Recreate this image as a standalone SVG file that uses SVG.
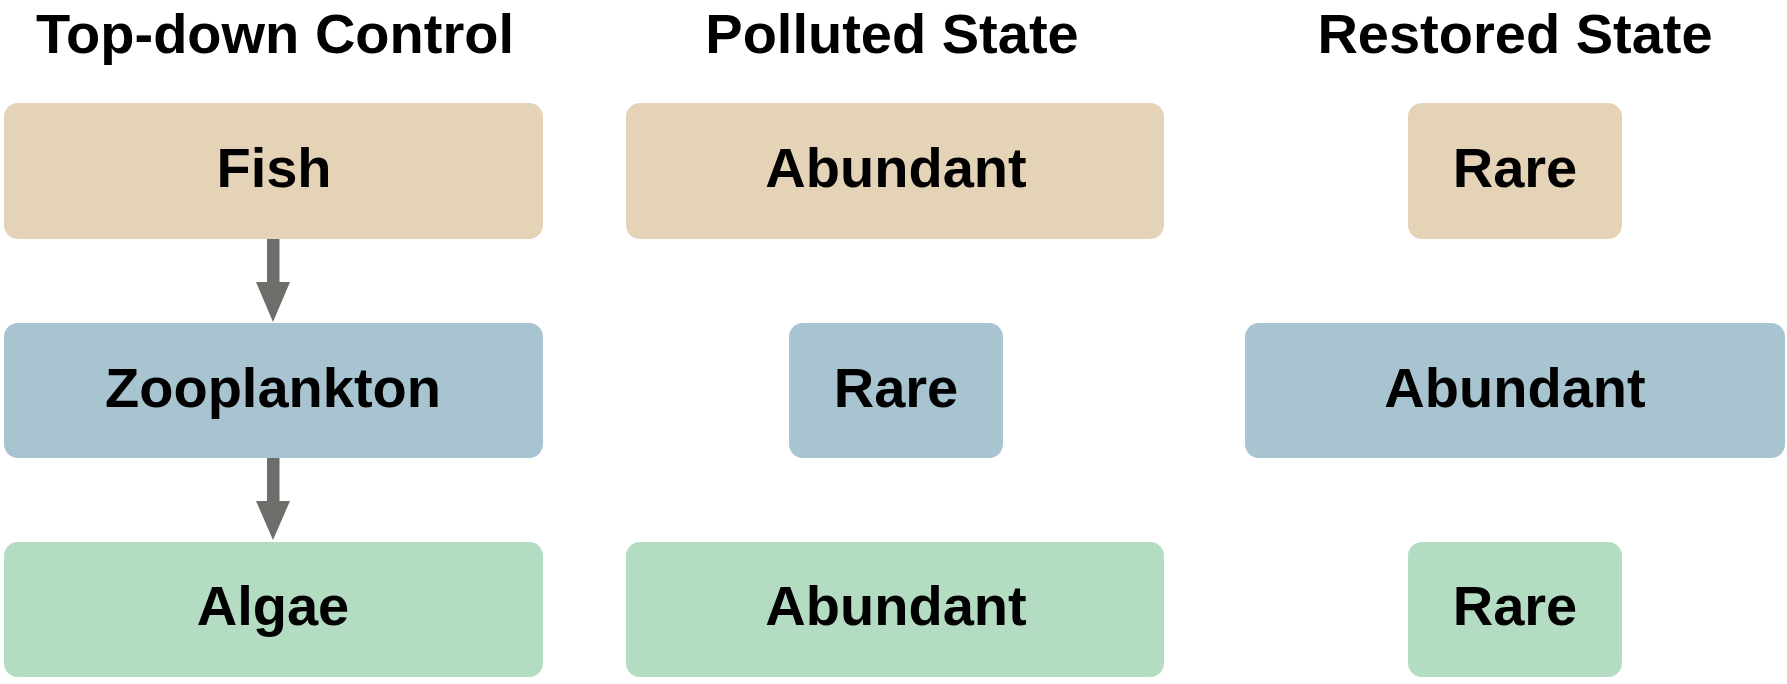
<svg xmlns="http://www.w3.org/2000/svg" width="1787" height="684" viewBox="0 0 1787 684">
<style>
.t{font-family:"Liberation Sans",Arial,sans-serif;font-weight:bold;font-size:56px;fill:#000;text-anchor:middle}
.tan{fill:#E5D3B8}
.blue{fill:#A7C4D0}
.green{fill:#B3DCC2}
.arr{fill:#6D6D6A}
</style>
<rect width="1787" height="684" fill="#fff"/>
<g id="headers">
<text class="t" x="275" y="53">Top-down Control</text>
<text class="t" x="892" y="53">Polluted State</text>
<text class="t" x="1515" y="53">Restored State</text>
</g>
<g id="connectors">
<path class="arr" d="M267 239 H279.5 V282 H290 L273 322 L256 282 H267 Z"/>
<path class="arr" d="M267 458 H279.5 V501 H290 L273 540 L256 501 H267 Z"/>
</g>
<g id="fish"><rect class="tan" x="4" y="103" width="539" height="136" rx="14"/><text class="t" x="274" y="187">Fish</text></g>
<g id="zooplankton"><rect class="blue" x="4" y="323" width="539" height="135" rx="14"/><text class="t" x="273" y="407">Zooplankton</text></g>
<g id="algae"><rect class="green" x="4" y="542" width="539" height="135" rx="14"/><text class="t" x="273" y="625">Algae</text></g>
<g id="polluted-fish"><rect class="tan" x="626" y="103" width="538" height="136" rx="14"/><text class="t" x="896" y="187">Abundant</text></g>
<g id="polluted-zooplankton"><rect class="blue" x="789" y="323" width="214" height="135" rx="14"/><text class="t" x="896" y="407">Rare</text></g>
<g id="polluted-algae"><rect class="green" x="626" y="542" width="538" height="135" rx="14"/><text class="t" x="896" y="625">Abundant</text></g>
<g id="restored-fish"><rect class="tan" x="1408" y="103" width="214" height="136" rx="14"/><text class="t" x="1515" y="187">Rare</text></g>
<g id="restored-zooplankton"><rect class="blue" x="1245" y="323" width="540" height="135" rx="14"/><text class="t" x="1515" y="407">Abundant</text></g>
<g id="restored-algae"><rect class="green" x="1408" y="542" width="214" height="135" rx="14"/><text class="t" x="1515" y="625">Rare</text></g>
</svg>
